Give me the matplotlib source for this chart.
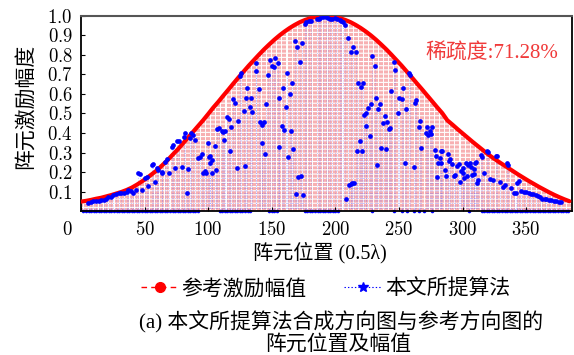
import numpy as np
import matplotlib
matplotlib.use("Agg")
import matplotlib.pyplot as plt
from matplotlib.lines import Line2D
from matplotlib.legend_handler import HandlerLine2D
from matplotlib.transforms import ScaledTranslation

plt.rcParams['font.family'] = ['Liberation Serif', 'Noto Sans CJK SC']
plt.rcParams['mathtext.fontset'] = 'cm'
plt.rcParams['lines.scale_dashes'] = False

# reference excitation (read every 4 elements)
ref_x = list(range(0, 385, 4))
ref_y = [0.048, 0.052, 0.057, 0.063, 0.068, 0.075, 0.082, 0.090, 0.098, 0.108,
         0.120, 0.135, 0.152, 0.170, 0.190, 0.210, 0.235, 0.260, 0.288, 0.315,
         0.345, 0.375, 0.405, 0.435, 0.465, 0.497, 0.530, 0.560, 0.592, 0.623,
         0.655, 0.686, 0.716, 0.746, 0.774, 0.802, 0.829, 0.854, 0.878, 0.900,
         0.920, 0.938, 0.954, 0.968, 0.979, 0.988, 0.995, 0.999, 1.000, 0.999,
         0.995, 0.988, 0.979, 0.968, 0.954, 0.938, 0.920, 0.900, 0.878, 0.854,
         0.829, 0.802, 0.774, 0.746, 0.716, 0.686, 0.655, 0.625, 0.594, 0.563,
         0.532, 0.502, 0.465, 0.443, 0.420, 0.398, 0.376, 0.354, 0.333, 0.312,
         0.291, 0.272, 0.254, 0.237, 0.220, 0.203, 0.186, 0.170, 0.154, 0.139,
         0.124, 0.110, 0.096, 0.083, 0.071, 0.060, 0.050]

# proposed algorithm: non-zero elements
alg_x = [5.8, 7.6, 9.7, 11.8, 13.9, 15.9, 18.1, 19.6, 21.5, 23.3, 25.4, 27.5, 29.6, 31.7,
         33.8, 35.9, 37.2, 39.0, 40.6, 43.2, 45.0, 46.3, 48.0, 50.3, 51.6, 52.9, 55.5,
         56.3, 58.1, 60.0, 60.7, 63.4, 64.1, 65.9, 67.3, 69.4, 71.2, 72.0, 73.8, 75.9,
         77.3, 79.1, 80.9, 81.7, 83.0, 84.3, 85.6, 86.9, 88.2, 89.6, 92.2, 93.5, 94.8,
         96.1, 97.4, 98.7, 100.0, 100.5, 101.3, 101.8, 103.1, 103.4, 105.3, 106.0,
         107.3, 108.7, 110.5, 111.8, 112.3, 113.1, 114.9, 116.0, 117.1, 117.8, 119.7,
         121.0, 122.3, 123.1, 124.9, 126.2, 128.1, 129.1, 130.1, 130.6, 132.7, 133.8,
         134.8, 137.5, 138.0, 140.1, 141.1, 142.2, 142.7, 144.0, 144.8, 145.8, 147.4,
         148.9, 150.0, 151.6, 152.9, 155.0, 155.8, 156.0, 158.2, 158.9, 159.7, 161.0,
         162.1, 163.1, 164.2, 165.0, 166.0, 166.8, 168.1, 168.9, 169.9, 171.0, 172.1,
         172.6, 173.8, 174.7, 176.0, 177.3, 179.4, 181.2, 185.2, 187.3, 188.3, 190.4,
         192.5, 194.3, 196.1, 197.7, 199.5, 201.4, 203.5, 204.8, 206.1, 207.9, 208.7,
         210.0, 210.8, 212.1, 212.4, 213.4, 213.9, 214.9, 216.0, 217.1, 217.9, 219.2,
         220.0, 221.0, 221.8, 222.6, 223.9, 224.4, 226.0, 227.0, 227.8, 229.1, 230.9,
         231.7, 232.8, 233.8, 234.9, 235.9, 237.5, 239.1, 239.6, 240.9, 241.9, 242.7,
         244.0, 245.8, 246.6, 249.2, 250.0, 252.6, 253.2, 254.8, 255.8, 257.9, 259.0,
         261.8, 262.9, 263.7, 265.8, 266.5, 267.1, 271.5, 272.3, 273.0, 274.5, 275.5,
         276.3, 278.1, 279.4, 280.2, 280.7, 282.0, 283.3, 283.4, 284.2, 286.0, 287.3,
         288.5, 289.1, 290.4, 291.7, 293.1, 294.4, 295.6, 297.2, 297.7, 299.1, 300.3,
         300.6, 300.8, 302.4, 303.4, 304.3, 305.6, 306.9, 307.7, 308.7, 309.0, 309.5,
         310.3, 311.3, 312.1, 314.7, 315.5, 316.6, 319.2, 320.0, 321.8, 323.9, 326.0,
         327.0, 329.1, 331.7, 333.3, 334.9, 336.0, 338.3, 340.4, 342.3, 342.7, 344.3,
         346.2, 348.0, 350.1, 352.2, 354.1, 355.3, 357.4, 359.2, 360.6, 362.7, 364.5,
         365.8, 367.9, 369.7, 371.6, 373.7, 375.8, 377.6]
alg_y = [0.043, 0.046, 0.050, 0.051, 0.053, 0.055, 0.056, 0.063, 0.070, 0.073, 0.080, 0.087,
         0.091, 0.094, 0.094, 0.099, 0.108, 0.101, 0.094, 0.108, 0.195, 0.188, 0.106, 0.168,
         0.176, 0.128, 0.236, 0.241, 0.147, 0.219, 0.210, 0.193, 0.202, 0.253, 0.265, 0.193,
         0.330, 0.338, 0.219, 0.361, 0.359, 0.228, 0.378, 0.398, 0.094, 0.214, 0.373, 0.402,
         0.390, 0.364, 0.270, 0.279, 0.292, 0.193, 0.207, 0.193, 0.347, 0.279, 0.282, 0.245,
         0.262, 0.197, 0.335, 0.210, 0.419, 0.424, 0.412, 0.407, 0.364, 0.412, 0.484, 0.474,
         0.309, 0.429, 0.573, 0.552, 0.219, 0.462, 0.692, 0.710, 0.514, 0.231, 0.578, 0.632,
         0.532, 0.581, 0.509, 0.720, 0.761, 0.624, 0.458, 0.350, 0.441, 0.458, 0.291, 0.549,
         0.697, 0.774, 0.744, 0.740, 0.786, 0.757, 0.578, 0.330, 0.436, 0.632, 0.415, 0.532,
         0.706, 0.279, 0.600, 0.410, 0.658, 0.316, 0.873, 0.087, 0.843, 0.176, 0.766, 0.180,
         0.863, 0.082, 0.959, 0.969, 0.973, 0.976, 0.985, 0.983, 0.988, 0.993, 0.993, 0.990,
         0.985, 0.985, 0.988, 0.985, 0.979, 0.973, 0.969, 0.954, 0.060, 0.885, 0.133, 0.138,
         0.817, 0.142, 0.843, 0.145, 0.817, 0.306, 0.658, 0.361, 0.634, 0.307, 0.658, 0.492,
         0.437, 0.501, 0.530, 0.385, 0.547, 0.795, 0.744, 0.578, 0.236, 0.523, 0.549, 0.325,
         0.453, 0.487, 0.318, 0.458, 0.420, 0.424, 0.617, 0.764, 0.723, 0.505, 0.582, 0.573,
         0.629, 0.245, 0.525, 0.709, 0.697, 0.226, 0.554, 0.569, 0.429, 0.462, 0.322, 0.400,
         0.429, 0.390, 0.410, 0.395, 0.429, 0.313, 0.282, 0.176, 0.245, 0.270, 0.245, 0.309,
         0.309, 0.210, 0.179, 0.292, 0.258, 0.265, 0.241, 0.180, 0.185, 0.231, 0.239, 0.150,
         0.207, 0.219, 0.193, 0.168, 0.245, 0.179, 0.236, 0.248, 0.227, 0.187, 0.214, 0.190,
         0.248, 0.253, 0.142, 0.159, 0.287, 0.278, 0.193, 0.309, 0.301, 0.163, 0.159, 0.282,
         0.282, 0.150, 0.125, 0.133, 0.245, 0.236, 0.116, 0.094, 0.091, 0.142, 0.154, 0.104,
         0.099, 0.099, 0.094, 0.087, 0.087, 0.082, 0.077, 0.070, 0.063, 0.060, 0.060, 0.056,
         0.056, 0.053, 0.053, 0.048, 0.046]

# proposed algorithm: switched-off elements (amplitude 0)
zero_x = (list(range(2, 93, 2)) + list(range(109, 134, 2)) + [148, 150, 152, 154]
          + list(range(176, 203, 2)) + [229, 246, 252, 256, 262, 266, 270, 276, 305]
          + list(range(315, 385, 2)))

xticks = [0, 50, 100, 150, 200, 250, 300, 350]
yticks = [0.1, 0.2, 0.3, 0.4, 0.5, 0.6, 0.7, 0.8, 0.9, 1.0]

fig = plt.figure(figsize=(5.74, 3.55), dpi=100)
ax = fig.add_axes([0.141, 0.4056, 0.8555, 0.5494])

# reference stems (dashed, pink) and curve
ax.vlines(ref_x, 0, ref_y, colors='#f7b0b2', linestyles=(0, (2.2, 0.8)), linewidth=2.9, zorder=1)
ax.vlines(alg_x, 0, alg_y, colors='#6060ff', linestyles=(0, (0.8, 1.0)), linewidth=0.5,
          alpha=0.45, zorder=1.5)
ax.plot(ref_x, ref_y, color='red', lw=3.0, solid_capstyle='round', zorder=3)
ax.plot(alg_x, alg_y, ls='none', marker='o', ms=3.4, color='blue', mew=0, zorder=4)
ax.plot(zero_x, [0] * len(zero_x), ls='none', marker='o', ms=2.6, color='blue', mew=0,
        clip_on=False, zorder=2)

ax.set_xlim(0, 386)
ax.set_ylim(0, 1)
ax.set_xticks(xticks)
ax.set_xticklabels(['$%d$' % v for v in xticks])
ax.set_yticks(yticks)
ax.set_yticklabels(['$%.1f$' % v for v in yticks])
ax.tick_params(direction='in', length=3, labelsize=13.5, width=0.8)
ax.tick_params(axis='x', pad=7)
ax.tick_params(axis='y', pad=6)
for s in ['left', 'right', 'bottom']:
    ax.spines[s].set_linewidth(1.3)
    ax.spines[s].set_color('black')
ax.spines['top'].set_linewidth(1.5)
ax.spines['top'].set_color('#555555')

# the "0" label sits left of the spine in the original
lab0 = ax.get_xticklabels()[0]
lab0.set_transform(lab0.get_transform() + ScaledTranslation(-0.14, 0, fig.dpi_scale_trans))

ax.text(323, 0.81, '稀疏度:71.28%', color='#f03a3a', fontsize=15, ha='center', va='center')

fig.text(0.045, 0.699, '阵元激励幅度', rotation=90, fontsize=15, ha='center', va='center')
fig.text(0.558, 0.289, '阵元位置 (0.5λ)', fontsize=14.5, ha='center', va='center')


class EndMarker(HandlerLine2D):
    def get_xdata(self, legend, xdescent, ydescent, width, height, fontsize):
        xdata, _ = super().get_xdata(legend, xdescent, ydescent, width, height, fontsize)
        return xdata, [-xdescent + width]


h_ref = Line2D([], [], color='red', ls=(0, (4, 3)), lw=1.0, marker='o', ms=7)
h_alg = Line2D([], [], color='blue', ls=(0, (1, 1.5)), lw=0.8, marker='*', ms=7)
fig.legend([h_ref, h_alg], ['参考激励幅值', '本文所提算法'], loc='center',
           bbox_to_anchor=(0.567, 0.185), ncol=2, frameon=False, fontsize=15,
           handlelength=1.8, handletextpad=0.15, columnspacing=1.8,
           handler_map={h_ref: EndMarker(numpoints=1), h_alg: EndMarker(numpoints=1)})

fig.text(0.595, 0.093, '(a) 本文所提算法合成方向图与参考方向图的', fontsize=15, ha='center', va='center')
fig.text(0.59, 0.028, '阵元位置及幅值', fontsize=15, ha='center', va='center')

fig.savefig('out.png', dpi=100)
